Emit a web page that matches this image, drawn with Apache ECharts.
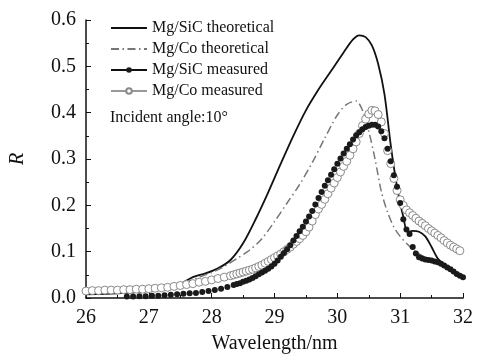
<!DOCTYPE html>
<html>
<head>
<meta charset="utf-8">
<script src="https://cdn.jsdelivr.net/npm/echarts@6/dist/echarts.min.js"></script>
<style>
  html, body { margin: 0; padding: 0; background: #fff; }
  #chart { width: 487px; height: 361px; }
</style>
</head>
<body>
<div id="chart"></div>
<script>
  // 数据：波长(nm) 与反射率 R
  const legendNames = ['Mg/SiC theoretical', 'Mg/Co theoretical', 'Mg/SiC measured', 'Mg/Co measured'];
  const yTickLabels = ['0.0', '0.1', '0.2', '0.3', '0.4', '0.5', '0.6'];
  const noteText = 'Incident angle:10°';

  // Mg/SiC theoretical
  const sicTheoWl = [26.0, 26.5, 27.0, 27.3, 27.5, 27.7, 27.9, 28.1, 28.3, 28.5, 28.7, 28.9, 29.1, 29.3, 29.5, 29.7, 29.9,
    30.1, 30.25, 30.35, 30.45, 30.55, 30.65, 30.75, 30.85, 30.95, 31.05, 31.12, 31.2, 31.3, 31.4, 31.5, 31.6, 31.7, 31.8, 31.9, 32.0];
  const sicTheoR = [0.008, 0.01, 0.015, 0.02, 0.03, 0.045, 0.053, 0.064, 0.082, 0.118, 0.17, 0.228, 0.29, 0.35, 0.405, 0.45, 0.49,
    0.53, 0.558, 0.567, 0.563, 0.545, 0.505, 0.44, 0.33, 0.24, 0.175, 0.142, 0.145, 0.143, 0.133, 0.11, 0.085, 0.072, 0.062, 0.055, 0.048];

  // Mg/Co theoretical
  const coTheoWl = [26.0, 26.5, 27.0, 27.5, 27.8, 28.0, 28.2, 28.4, 28.6, 28.8, 29.0, 29.2, 29.4, 29.6, 29.8, 30.0, 30.15, 30.3,
    30.4, 30.5, 30.6, 30.7, 30.8, 30.9, 31.0, 31.1, 31.2, 31.3, 31.4, 31.5, 31.6, 31.7, 31.8, 31.9, 32.0];
  const coTheoR = [0.012, 0.014, 0.018, 0.03, 0.045, 0.055, 0.068, 0.085, 0.103, 0.128, 0.165, 0.205, 0.245, 0.292, 0.345, 0.395, 0.418, 0.425,
    0.405, 0.36, 0.3, 0.23, 0.185, 0.153, 0.133, 0.118, 0.105, 0.095, 0.087, 0.08, 0.075, 0.068, 0.06, 0.053, 0.045];

  // Mg/SiC measured
  const sicMeasWl = [26.65, 26.75, 26.85, 26.95, 27.05, 27.15, 27.25, 27.35, 27.45, 27.55, 27.65, 27.75, 27.85, 27.95, 28.05, 28.15, 28.25, 28.35,
    28.40, 28.45, 28.50, 28.55, 28.60, 28.65, 28.70, 28.75, 28.80, 28.85, 28.90, 28.95, 29.00, 29.05, 29.10, 29.15, 29.20, 29.25, 29.30, 29.35,
    29.40, 29.45, 29.50, 29.55, 29.60, 29.65, 29.70, 29.75, 29.80, 29.85, 29.90, 29.95, 30.00, 30.05, 30.10, 30.15, 30.20, 30.25, 30.30, 30.35,
    30.40, 30.45, 30.50, 30.55, 30.60, 30.65, 30.70, 30.75, 30.80, 30.85, 30.90, 30.95, 31.00, 31.05, 31.10, 31.15, 31.20, 31.25, 31.30, 31.35,
    31.40, 31.45, 31.50, 31.55, 31.60, 31.65, 31.70, 31.75, 31.80, 31.85, 31.90, 31.95, 32.00];
  const sicMeasR = [0.003, 0.003, 0.004, 0.004, 0.005, 0.005, 0.006, 0.007, 0.008, 0.009, 0.01, 0.011, 0.013, 0.015, 0.017, 0.02, 0.024, 0.028,
    0.030, 0.032, 0.035, 0.037, 0.040, 0.043, 0.047, 0.051, 0.055, 0.059, 0.063, 0.068, 0.074, 0.081, 0.089, 0.097, 0.105, 0.114, 0.124, 0.134,
    0.144, 0.154, 0.165, 0.176, 0.188, 0.202, 0.216, 0.229, 0.242, 0.254, 0.266, 0.278, 0.290, 0.301, 0.312, 0.322, 0.332, 0.342, 0.351, 0.358,
    0.364, 0.369, 0.372, 0.374, 0.374, 0.370, 0.360, 0.345, 0.322, 0.295, 0.265, 0.240, 0.205, 0.170, 0.148, 0.138, 0.110, 0.096, 0.088, 0.085,
    0.083, 0.082, 0.081, 0.079, 0.077, 0.074, 0.070, 0.066, 0.062, 0.057, 0.052, 0.048, 0.045];

  // Mg/Co measured
  const coMeasWl = [26.0, 26.1, 26.2, 26.3, 26.4, 26.5, 26.6, 26.7, 26.8, 26.9, 27.0, 27.1, 27.2, 27.3, 27.4, 27.5, 27.6, 27.7, 27.8, 27.9,
    28.0, 28.1, 28.2, 28.3, 28.35, 28.40, 28.45, 28.50, 28.55, 28.60, 28.65, 28.70, 28.75, 28.80, 28.85, 28.90, 28.95, 29.00, 29.05, 29.10,
    29.15, 29.20, 29.25, 29.30, 29.35, 29.40, 29.45, 29.50, 29.55, 29.60, 29.65, 29.70, 29.75, 29.80, 29.85, 29.90, 29.95, 30.00, 30.05, 30.10,
    30.15, 30.20, 30.25, 30.30, 30.35, 30.40, 30.45, 30.50, 30.55, 30.60, 30.65, 30.70, 30.75, 30.80, 30.85, 30.90, 30.95, 31.00, 31.05, 31.10,
    31.15, 31.20, 31.25, 31.30, 31.35, 31.40, 31.45, 31.50, 31.55, 31.60, 31.65, 31.70, 31.75, 31.80, 31.85, 31.90, 31.95];
  const coMeasR = [0.015, 0.016, 0.016, 0.017, 0.017, 0.017, 0.018, 0.018, 0.019, 0.019, 0.020, 0.021, 0.022, 0.023, 0.025, 0.027, 0.029, 0.031, 0.034, 0.036,
    0.039, 0.042, 0.045, 0.048, 0.050, 0.052, 0.054, 0.056, 0.058, 0.060, 0.062, 0.065, 0.068, 0.071, 0.075, 0.079, 0.083, 0.087, 0.091, 0.095,
    0.100, 0.105, 0.110, 0.116, 0.122, 0.128, 0.135, 0.143, 0.153, 0.166, 0.180, 0.192, 0.202, 0.213, 0.225, 0.237, 0.248, 0.260, 0.272, 0.284,
    0.295, 0.308, 0.322, 0.337, 0.355, 0.372, 0.386, 0.397, 0.405, 0.404, 0.396, 0.380, 0.355, 0.318, 0.290, 0.258, 0.232, 0.212, 0.200, 0.190,
    0.184, 0.178, 0.172, 0.166, 0.161, 0.156, 0.150, 0.145, 0.140, 0.135, 0.130, 0.124, 0.119, 0.114, 0.110, 0.106, 0.102];

  function pairs(xs, ys) {
    return xs.map(function (x, i) { return [x, ys[i]]; });
  }

  const serif = "'Liberation Serif', 'Times New Roman', serif";

  let myChart = echarts.init(document.getElementById('chart'));

  let option = {
    animation: false,
    backgroundColor: '#fff',
    grid: { left: 84, right: 24, top: 20, bottom: 63 },
    legend: {
      orient: 'vertical',
      left: 110,
      top: 20,
      padding: 0,
      itemWidth: 36,
      itemHeight: 7,
      itemGap: 5,
      textStyle: { fontFamily: serif, fontSize: 16, color: '#111' },
      data: [
        { name: legendNames[0], itemStyle: { opacity: 0 } },
        { name: legendNames[1], itemStyle: { opacity: 0 } },
        { name: legendNames[2], lineStyle: { width: 2, opacity: 1, color: '#111' } },
        { name: legendNames[3], lineStyle: { width: 2, opacity: 1, color: '#999' } }
      ]
    },
    graphic: [{
      type: 'text',
      left: 110,
      top: 110,
      style: { text: noteText, font: '16px ' + serif, fill: '#111' }
    }],
    xAxis: {
      type: 'value',
      min: 26,
      max: 32,
      interval: 1,
      name: 'Wavelength/nm',
      nameLocation: 'middle',
      nameGap: 36,
      nameTextStyle: { fontFamily: serif, fontSize: 20, color: '#111' },
      axisLine: { lineStyle: { color: '#111', width: 1.5 } },
      axisTick: { inside: true, length: 5, lineStyle: { color: '#111' } },
      minorTick: { show: true, splitNumber: 2, length: 3, lineStyle: { color: '#111' } },
      axisLabel: { margin: 10, fontFamily: serif, fontSize: 20, color: '#111' },
      splitLine: { show: false }
    },
    yAxis: {
      type: 'value',
      min: 0,
      max: 0.6,
      interval: 0.1,
      name: 'R',
      nameLocation: 'middle',
      nameRotate: 90,
      nameGap: 58,
      nameTextStyle: { fontFamily: serif, fontStyle: 'italic', fontSize: 20, color: '#111' },
      axisLine: { show: true, lineStyle: { color: '#111', width: 1.5 } },
      axisTick: { show: true, inside: true, length: 5, lineStyle: { color: '#111' } },
      minorTick: { show: true, splitNumber: 2, length: 3, lineStyle: { color: '#111' } },
      axisLabel: {
        margin: 10, fontFamily: serif, fontSize: 20, color: '#111',
        formatter: function (v) { return yTickLabels[Math.round(v * 10)]; }
      },
      splitLine: { show: false }
    },
    series: [
      {
        name: legendNames[0],
        type: 'line',
        smooth: 0.3,
        symbol: 'none',
        lineStyle: { color: '#111', width: 1.8 },
        itemStyle: { color: '#111' },
        data: pairs(sicTheoWl, sicTheoR)
      },
      {
        name: legendNames[1],
        type: 'line',
        smooth: 0.3,
        symbol: 'none',
        lineStyle: { color: '#777', width: 1.5, type: [8, 3.5, 1.5, 3.5] },
        itemStyle: { color: '#777' },
        data: pairs(coTheoWl, coTheoR)
      },
      {
        name: legendNames[3],
        type: 'line',
        symbol: 'circle',
        symbolSize: 8,
        lineStyle: { width: 0, opacity: 0 },
        itemStyle: { color: '#fff', borderColor: '#8a8a8a', borderWidth: 1 },
        data: pairs(coMeasWl, coMeasR)
      },
      {
        name: legendNames[2],
        type: 'line',
        symbol: 'circle',
        symbolSize: 6,
        lineStyle: { width: 0, opacity: 0 },
        itemStyle: { color: '#1a1a1a' },
        data: pairs(sicMeasWl, sicMeasR)
      }
    ]
  };

  // 调用setOption
  myChart.setOption(option);

  window.addEventListener('resize', function () {
    myChart.resize();
  });
</script>
</body>
</html>
